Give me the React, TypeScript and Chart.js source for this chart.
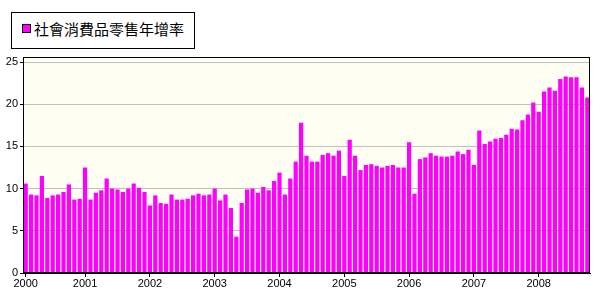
import React, { useEffect, useRef } from "react";
import { Chart, registerables } from "chart.js";

Chart.register(...registerables);

const seriesName = "社會消費品零售年增率";
const years = [2000, 2001, 2002, 2003, 2004, 2005, 2006, 2007, 2008];
const firstMonth = [2, 1, 1, 1, 1, 1, 1, 1, 2];

const v2000 = [10.6, 9.3, 9.2, 11.5, 8.9, 9.2, 9.3, 9.6, 10.5, 8.7, 8.8];
const v2001 = [12.5, 8.7, 9.5, 9.8, 11.2, 10.0, 9.9, 9.6, 10.0, 10.6, 10.1, 9.6];
const v2002 = [8.0, 9.2, 8.3, 8.2, 9.3, 8.7, 8.7, 8.8, 9.2, 9.4, 9.2, 9.3];
const v2003 = [10.0, 8.6, 9.3, 7.7, 4.3, 8.3, 9.9, 10.0, 9.5, 10.2, 9.8, 10.9];
const v2004 = [11.9, 9.3, 11.2, 13.2, 17.8, 13.9, 13.2, 13.2, 14.0, 14.2, 13.9, 14.5];
const v2005 = [11.5, 15.8, 13.9, 12.2, 12.8, 12.9, 12.7, 12.5, 12.7, 12.8, 12.5, 12.5];
const v2006 = [15.5, 9.4, 13.5, 13.7, 14.2, 13.9, 13.8, 13.8, 13.9, 14.4, 14.1, 14.6];
const v2007 = [12.8, 16.9, 15.3, 15.6, 15.9, 16.0, 16.4, 17.1, 17.0, 18.1, 18.8, 20.2];
const v2008 = [19.1, 21.5, 22.0, 21.6, 23.0, 23.3, 23.2, 23.2, 22.0, 20.8];

const yearValues = [v2000, v2001, v2002, v2003, v2004, v2005, v2006, v2007, v2008];
const yTicks = [0, 5, 10, 15, 20, 25];

const labels: string[] = [];
const values: number[] = [];
const yearStart: Record<number, string> = {};
yearValues.forEach((arr, yi) => {
  yearStart[labels.length] = String(years[yi]);
  arr.forEach((v, mi) => {
    labels.push(`${years[yi]}-${firstMonth[yi] + mi}`);
    values.push(v);
  });
});

const frame = {
  id: "frame",
  beforeDraw(chart: any) {
    const { ctx, chartArea: a } = chart;
    ctx.save();
    ctx.fillStyle = "#FFFEF3";
    ctx.fillRect(a.left, a.top, a.right - a.left, a.bottom - a.top);
    ctx.restore();
  },
  afterDatasetsDraw(chart: any) {
    const { ctx, chartArea: a } = chart;
    ctx.save();
    ctx.strokeStyle = "#000";
    ctx.lineWidth = 1;
    ctx.strokeRect(Math.round(a.left) + 0.5, Math.round(a.top) + 0.5, Math.round(a.right - a.left) - 1, Math.round(a.bottom - a.top) - 1);
    ctx.restore();
  },
};

export default function App() {
  const ref = useRef<HTMLCanvasElement>(null);
  useEffect(() => {
    if (!ref.current) return;
    const chart = new Chart(ref.current, {
      type: "bar",
      data: {
        labels,
        datasets: [
          {
            label: seriesName,
            data: values,
            backgroundColor: "#FF00FF",
            borderWidth: 0,
            barPercentage: 0.78,
            categoryPercentage: 1,
          },
        ],
      },
      options: {
        animation: false,
        responsive: false,
        maintainAspectRatio: false,
        layout: { padding: { left: 0, right: 13, top: 57, bottom: 0 } },
        plugins: { legend: { display: false }, tooltip: { enabled: false } },
        scales: {
          x: {
            offset: true,
            afterFit: (s: any) => {
              s.height = 17;
            },
            grid: {
              offset: false,
              drawOnChartArea: false,
              tickLength: 4,
              tickColor: (c: any) => (yearStart[c.index] ? "#000" : "rgba(0,0,0,0)"),
            },
            border: { color: "#000" },
            ticks: {
              autoSkip: false,
              maxRotation: 0,
              padding: 0,
              color: "#000",
              font: { family: "Liberation Sans, Arial", size: 11 },
              callback: (_v: any, i: number) => yearStart[i] || "",
            },
          },
          y: {
            min: 0,
            max: 25.6,
            afterFit: (s: any) => {
              s.width = 23;
            },
            afterBuildTicks: (s: any) => {
              s.ticks = yTicks.map((v) => ({ value: v }));
            },
            grid: { color: "#C0C0C0", tickColor: "#000", tickLength: 3 },
            border: { color: "#000" },
            ticks: {
              padding: 2,
              color: "#000",
              font: { family: "Liberation Sans, Arial", size: 11 },
            },
          },
        },
      },
      plugins: [frame],
    });
    return () => chart.destroy();
  }, []);
  return (
    <div style={{ position: "absolute", left: 0, top: 0, width: 603, height: 290, background: "#fff" }}>
      <canvas ref={ref} width={603} height={290} style={{ position: "absolute", left: 0, top: 0 }} />
      <div
        style={{
          position: "absolute",
          left: 11,
          top: 12,
          width: 182,
          height: 35,
          border: "1px solid #000",
          background: "#fff",
          boxSizing: "content-box",
        }}
      >
        <div
          style={{
            position: "absolute",
            left: 10,
            top: 11,
            width: 7,
            height: 7,
            background: "#FF00FF",
            border: "1px solid #000",
          }}
        />
        <div
          style={{
            position: "absolute",
            left: 22,
            top: 6,
            fontFamily: "'Noto Sans CJK TC', sans-serif",
            fontSize: 15,
            lineHeight: "20px",
            color: "#000",
            whiteSpace: "nowrap",
          }}
        >
          {seriesName}
        </div>
      </div>
    </div>
  );
}
